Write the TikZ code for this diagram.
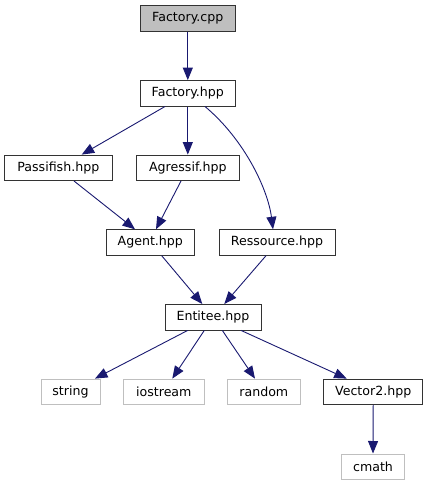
\documentclass[tikz,border=0pt]{standalone}
\usepackage{fontspec}
\setmainfont{DejaVu Sans}
\usetikzlibrary{arrows.meta,calc}
\definecolor{edgeblue}{HTML}{191970}
\definecolor{sysgrey}{HTML}{BFBFBF}
\begin{document}
\begin{tikzpicture}[x=1pt,y=-1pt,
  box/.style={draw=black!80,line width=0.9pt,fill=white,rectangle,minimum height=25.5pt,inner sep=0pt,font=\fontsize{12.6}{13}\selectfont},
  sysbox/.style={box,draw=sysgrey},
  rootbox/.style={box,fill=sysgrey},
  edge/.style={draw=edgeblue,line width=0.9pt,-{Triangle[length=12.5pt,width=10pt]}}]
\useasboundingbox (0,0) rectangle (428,485);
\node[rootbox,minimum width=95pt] (fcpp) at (187.8,18.5) {Factory.cpp};
\node[box,minimum width=95pt] (fhpp) at (187.8,93.3) {Factory.hpp};
\node[box,minimum width=107.3pt] (pass) at (58.3,167.8) {Passifish.hpp};
\node[box,minimum width=103pt] (agr) at (187.8,167.8) {Agressif.hpp};
\node[box,minimum width=88pt] (agent) at (150.3,242.5) {Agent.hpp};
\node[box,minimum width=116pt] (res) at (277,242.5) {Ressource.hpp};
\node[box,minimum width=96pt] (ent) at (213,317.2) {Entitee.hpp};
\node[sysbox,minimum width=59pt] (str) at (70.5,391.8) {string};
\node[sysbox,minimum width=80.3pt] (ios) at (163.8,391.8) {iostream};
\node[sysbox,minimum width=72.3pt] (rnd) at (263.8,391.8) {random};
\node[box,minimum width=99pt] (vec) at (373.2,391.8) {Vector2.hpp};
\node[sysbox,minimum width=62.6pt] (cmath) at (373,466.7) {cmath};

\draw[edge] (fcpp.south) -- (fhpp.north);
\draw[edge] ($(fhpp.south)+(-22.8,0)$) -- ($(pass.north)+(23.4,0)$);
\draw[edge] (fhpp.south) -- (agr.north);
\draw[edge] ($(fhpp.south)+(17.2,0)$) .. controls (245,140) and (268,190) .. ($(res.north)+(-4,0)$);
\draw[edge] ($(pass.south)+(15.7,0)$) -- ($(agent.north)+(-15.3,0)$);
\draw[edge] ($(agr.south)+(-6.8,0)$) -- ($(agent.north)+(5.7,0)$);
\draw[edge] ($(agent.south)+(11.4,0)$) -- ($(ent.north)+(-10.7,0)$);
\draw[edge] ($(res.south)+(-11,0)$) -- ($(ent.north)+(11.3,0)$);
\draw[edge] ($(ent.south)+(-25.3,0)$) -- ($(str.north)+(24.5,0)$);
\draw[edge] ($(ent.south)+(-8.7,0)$) -- ($(ios.north)+(8.5,0)$);
\draw[edge] ($(ent.south)+(9.3,0)$) -- ($(rnd.north)+(-8.8,0)$);
\draw[edge] ($(ent.south)+(28,0)$) -- ($(vec.north)+(-26.5,0)$);
\draw[edge] (vec.south) -- (cmath.north);
\end{tikzpicture}
\end{document}
